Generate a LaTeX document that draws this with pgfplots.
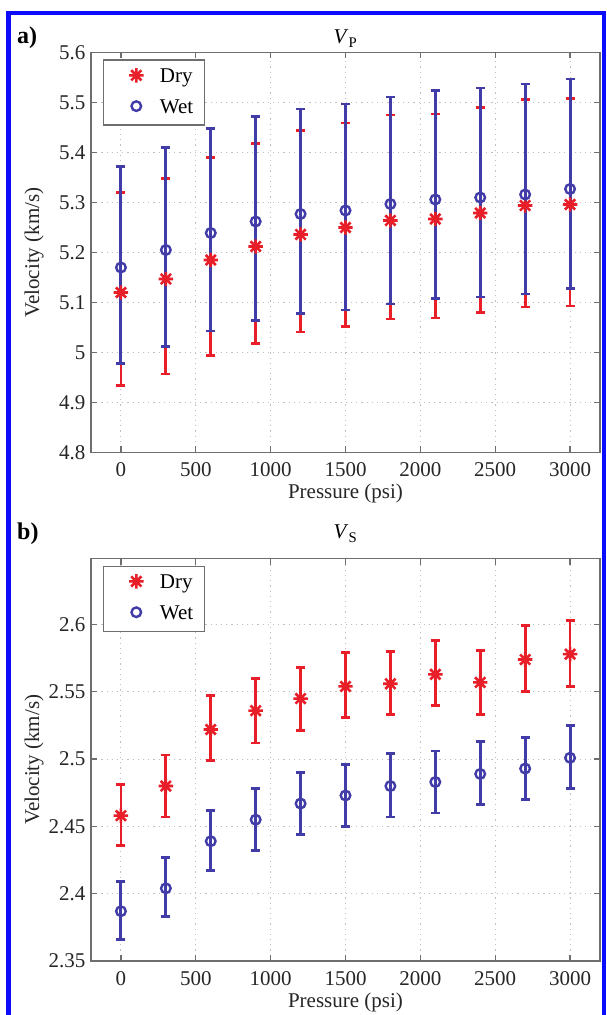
\documentclass[border=0pt]{standalone}
\usepackage{fontspec}
\setmainfont{Liberation Serif}
\newfontfamily\tnr{Liberation Serif}
\usepackage{pgfplots}
\usepackage{pgfplotstable}
\pgfplotsset{compat=1.18}
\definecolor{dryred}{RGB}{232,30,40}
\definecolor{wetblue}{RGB}{66,60,168}
\definecolor{frameblue}{RGB}{12,12,250}
\definecolor{axgray}{RGB}{110,110,110}

\pgfdeclareplotmark{mstar}{%
 \pgfpathmoveto{\pgfqpoint{-\pgfplotmarksize}{0pt}}\pgfpathlineto{\pgfqpoint{\pgfplotmarksize}{0pt}}%
 \pgfpathmoveto{\pgfqpoint{0pt}{-\pgfplotmarksize}}\pgfpathlineto{\pgfqpoint{0pt}{\pgfplotmarksize}}%
 \pgfpathmoveto{\pgfqpoint{-.7071\pgfplotmarksize}{-.7071\pgfplotmarksize}}\pgfpathlineto{\pgfqpoint{.7071\pgfplotmarksize}{.7071\pgfplotmarksize}}%
 \pgfpathmoveto{\pgfqpoint{-.7071\pgfplotmarksize}{.7071\pgfplotmarksize}}\pgfpathlineto{\pgfqpoint{.7071\pgfplotmarksize}{-.7071\pgfplotmarksize}}%
 \pgfusepathqstroke}

\pgfplotstableread{
x y ep em
0 5.120 0.200 0.186
300 5.147 0.201 0.190
600 5.185 0.205 0.191
900 5.212 0.206 0.194
1200 5.236 0.208 0.195
1500 5.250 0.209 0.198
1800 5.264 0.211 0.197
2100 5.267 0.210 0.198
2400 5.279 0.211 0.199
2700 5.294 0.212 0.203
3000 5.296 0.212 0.203
}\dryA
\pgfplotstableread{
x y ep em
0 5.170 0.202 0.192
300 5.205 0.205 0.193
600 5.239 0.209 0.196
900 5.262 0.210 0.198
1200 5.277 0.210 0.199
1500 5.284 0.213 0.199
1800 5.297 0.214 0.200
2100 5.306 0.218 0.198
2400 5.310 0.219 0.199
2700 5.316 0.221 0.199
3000 5.327 0.220 0.199
}\wetA
\pgfplotstableread{
x y ep em
0 2.458 0.023 0.022
300 2.480 0.023 0.023
600 2.522 0.025 0.023
900 2.536 0.024 0.024
1200 2.545 0.023 0.024
1500 2.554 0.025 0.023
1800 2.556 0.024 0.023
2100 2.563 0.025 0.023
2400 2.557 0.024 0.024
2700 2.574 0.025 0.024
3000 2.578 0.025 0.024
}\dryB
\pgfplotstableread{
x y ep em
0 2.387 0.022 0.021
300 2.404 0.023 0.021
600 2.439 0.023 0.022
900 2.455 0.023 0.023
1200 2.467 0.023 0.023
1500 2.473 0.023 0.023
1800 2.480 0.024 0.023
2100 2.483 0.023 0.023
2400 2.489 0.024 0.023
2700 2.493 0.023 0.023
3000 2.501 0.024 0.023
}\wetB

\newcommand{\fs}{\tnr\fontsize{21}{24}\selectfont}

\pgfplotsset{
 panel/.style={
  scale only axis, width=509pt,
  xmin=-200, xmax=3200, xtick={0,500,...,3000},
  grid=major,
  major grid style={gray!50, dash pattern=on 1.2pt off 4pt, line width=1pt},
  axis line style={axgray, line width=1.3pt},
  tick style={axgray, line width=1.3pt},
  major tick length=6pt, tick align=inside,
  xtick pos=both, ytick pos=both,
  ticklabel style={font=\fs, text=black!85},
  xticklabel style={yshift=-7pt, /pgf/number format/1000 sep={}},
  yticklabel style={xshift=-2pt},
  /pgf/number format/assume math mode=true,
  xlabel={Pressure (psi)}, ylabel={Velocity (km/s)},
  every axis x label/.style={at={(axis description cs:0.5,0)}, anchor=base, yshift=-46.5pt, font=\fs, text=black!85},
  every axis y label/.style={at={(axis description cs:-0.102,0.5)}, rotate=90, anchor=base, font=\fs, text=black!85},
  legend style={at={(axis description cs:0,1)}, anchor=north west, xshift=12pt, yshift=-7pt,
    font=\fs, draw=axgray, line width=1.3pt, row sep=15pt, inner xsep=10pt, inner ysep=8pt,
    nodes={inner sep=1pt, text depth=.25em, text height=.75em}},
  legend cell align=left,
  legend image code/.code={\path (0pt,0pt) (44pt,0pt); \draw[##1, mark repeat=1] plot coordinates {(22pt,5pt)};},
 },
 dry/.style={only marks, mark=mstar, mark size=7.2pt, color=dryred,
   mark options={line width=2.6pt, solid, dryred},
   error bars/.cd, y dir=both, y explicit,
   error bar style={line width=2.8pt, dryred},
   error mark options={rotate=90, mark size=4.5pt, line width=2.8pt, dryred}},
 wet/.style={only marks, mark=o, mark size=4.8pt, color=wetblue,
   mark options={line width=2.4pt, solid, wetblue},
   error bars/.cd, y dir=both, y explicit,
   error bar style={line width=3pt, wetblue},
   error mark options={rotate=90, mark size=4.5pt, line width=2.8pt, wetblue}},
}

\begin{document}
\begin{tikzpicture}[x=1pt,y=1pt]
\useasboundingbox (0,0) rectangle (606,1015);
\fill[white] (0,0) rectangle (606,1015);

% panel a
\begin{axis}[panel, at={(91pt,562.5pt)}, anchor=south west, height=400pt,
  ymin=4.8, ymax=5.6, ytick={4.8,4.9,5.0,5.1,5.2,5.3,5.4,5.5,5.6},
  yticklabel style={/pgf/number format/fixed, /pgf/number format/precision=1}]
\addplot[dry] table[x=x, y=y, y error plus=ep, y error minus=em]{\dryA};
\addlegendentry{Dry}
\addplot[wet] table[x=x, y=y, y error plus=ep, y error minus=em]{\wetA};
\addlegendentry{Wet}
\end{axis}

% panel b
\begin{axis}[panel, at={(91pt,54pt)}, anchor=south west, height=402.4pt,
  ymin=2.35, ymax=2.649, ytick={2.35,2.4,2.45,2.5,2.55,2.6},
  yticklabel style={/pgf/number format/fixed, /pgf/number format/precision=2}]
\addplot[dry] table[x=x, y=y, y error plus=ep, y error minus=em]{\dryB};
\addlegendentry{Dry}
\addplot[wet] table[x=x, y=y, y error plus=ep, y error minus=em]{\wetB};
\addlegendentry{Wet}
\end{axis}

\node[anchor=base west, font=\tnr\fontsize{24}{28}\selectfont\bfseries, inner sep=0pt] at (17,971) {a)};
\node[anchor=base, font=\fs, inner sep=0pt] at (345.5,971) {\textit{V}\textsubscript{P}};
\node[anchor=base west, font=\tnr\fontsize{24}{28}\selectfont\bfseries, inner sep=0pt] at (17,475) {b)};
\node[anchor=base, font=\fs, inner sep=0pt] at (345.5,476) {\textit{V}\textsubscript{S}};

\draw[frameblue, line width=4.5pt] (8.5,-20) rectangle (603.8,1002);
\end{tikzpicture}
\end{document}
